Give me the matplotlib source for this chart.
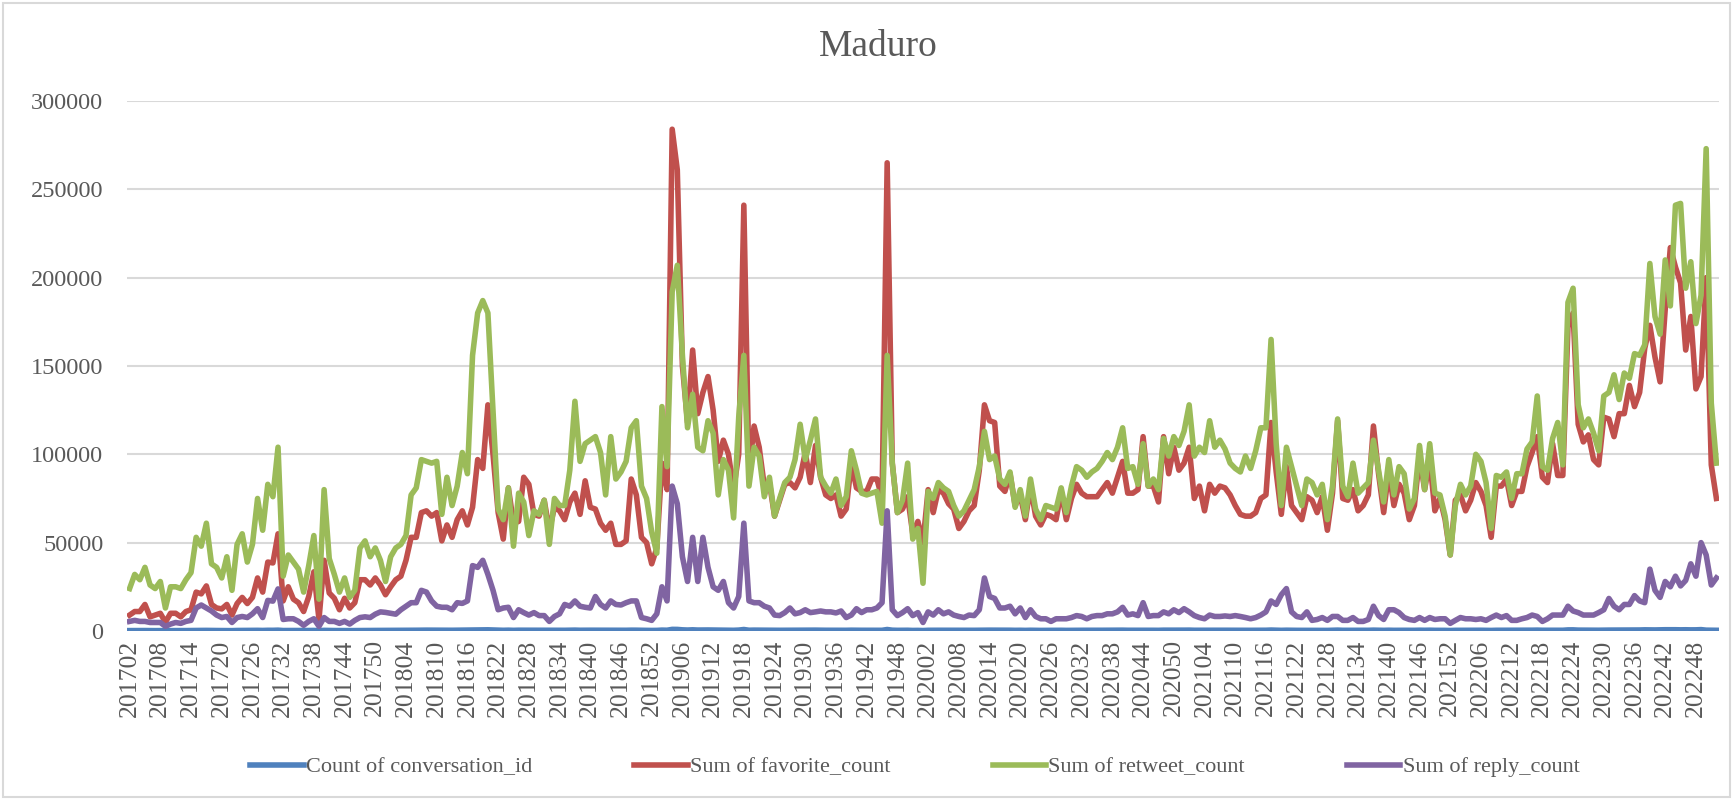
import matplotlib
matplotlib.use("Agg")
import matplotlib.pyplot as plt
from matplotlib.patches import Rectangle

# categories: year + week number, 2017 wk02 .. 2022 wk52
years = [2017, 2018, 2019, 2020, 2021, 2022]
first_week = 2
last_week = 52

# Count of conversation_id (sits on the zero line)
conv_2017 = [210, 230, 220, 240, 200, 190, 210, 150, 200, 210, 190, 220, 230, 300, 310, 330,
             270, 260, 240, 270, 190, 280, 300, 270, 290, 360, 300, 380, 370, 450, 250, 280,
             270, 250, 200, 260, 300, 170, 340, 260, 240, 210, 240, 200, 230, 280, 290, 280,
             300, 310, 290]
conv_2018 = [300, 320, 330, 350, 400, 410, 460, 470, 450, 460, 390, 420, 400, 430, 460, 440,
             520, 600, 620, 650, 540, 420, 380, 450, 360, 430, 420, 360, 400, 390, 410, 340,
             400, 390, 380, 420, 480, 400, 440, 430, 420, 390, 380, 380, 360, 370, 390, 450,
             440, 360, 340, 300]
conv_2019 = [330, 480, 420, 900, 870, 640, 530, 650, 520, 560, 560, 520, 450, 480, 460, 380,
             500, 820, 420, 480, 450, 400, 410, 350, 380, 400, 410, 420, 450, 420, 450, 470,
             420, 400, 390, 410, 360, 380, 440, 400, 390, 390, 410, 410, 380, 820, 440, 360,
             370, 400, 300, 330]
conv_2020 = [240, 380, 360, 400, 390, 380, 360, 330, 340, 360, 380, 420, 500, 460, 460, 410,
             400, 420, 360, 390, 330, 400, 340, 320, 340, 340, 330, 380, 330, 370, 400, 390,
             380, 390, 390, 400, 420, 410, 430, 460, 400, 410, 380, 450, 390, 390, 370, 450,
             420, 450, 430, 460]
conv_2021 = [480, 400, 410, 380, 420, 400, 410, 410, 390, 380, 370, 370, 370, 380, 410, 410,
             520, 430, 360, 430, 380, 360, 350, 380, 370, 350, 370, 320, 380, 480, 370, 360,
             400, 360, 370, 380, 470, 400, 350, 420, 360, 390, 380, 340, 360, 430, 380, 430,
             360, 370, 340, 260]
conv_2022 = [360, 380, 360, 370, 410, 400, 370, 310, 390, 390, 400, 360, 390, 390, 420, 440,
             480, 400, 400, 450, 460, 400, 600, 620, 480, 450, 460, 430, 420, 480, 490, 500,
             500, 520, 540, 540, 560, 640, 600, 580, 660, 700, 720, 700, 640, 680, 620, 640,
             760, 460, 400, 380]

# Sum of favorite_count (thousands)
fav_2017 = [9, 11, 11, 15, 8, 9, 10, 5, 10, 10, 8, 11, 12, 22, 21, 25.5, 15, 13, 12.5, 15,
            9, 15.5, 19, 15.5, 19, 30, 22, 39, 38.5, 55, 17, 25, 18, 16, 11, 19.5, 33.5, 6.5,
            40, 21.5, 18.5, 12, 18.5, 13, 16, 29, 29, 26, 30, 26, 20.5]
fav_2018 = [25, 29, 31, 40, 53, 53, 67, 68, 65, 67, 51, 60, 53, 63, 68, 60, 70, 97, 92, 128,
            100, 67, 52, 81, 61, 62, 87, 83, 66, 65, 74, 57, 70, 68, 63, 73, 78, 66, 85, 70,
            69, 61, 57, 61, 49, 49, 51, 86, 77, 53, 50, 38]
fav_2019 = [47, 95, 80, 284, 261, 150, 118, 159, 123, 135, 144, 125, 96, 108, 100, 80, 100,
            241, 90, 116, 104, 82, 84, 65, 74, 83, 84, 81, 87, 101, 84, 105, 87, 77, 75, 77,
            65, 69, 95, 81, 79, 79, 86, 86, 75, 265, 95, 67, 69, 76, 55, 62]
fav_2020 = [50, 80, 67, 80, 78, 72, 69, 58, 62, 68, 71, 91, 128, 119, 118, 82, 79, 89, 71, 77,
            63, 82, 65, 60, 66, 65, 63, 79, 63, 75, 83, 78, 76, 76, 76, 80, 84, 78, 87, 96,
            78, 78, 80, 110, 82, 82, 73, 110, 89, 104, 91, 95]
fav_2021 = [104, 75, 82, 68, 83, 78, 82, 81, 77, 71, 66, 65, 65, 67, 75, 77, 118, 90, 66, 93,
            71, 67, 63, 76, 74, 67, 76, 57, 78, 119, 75, 74, 80, 68, 71, 77, 116, 89, 67, 91,
            71, 83, 78, 63, 71, 99, 80, 97, 68, 75, 63, 43]
fav_2022 = [74, 77, 68, 74, 84, 79, 71, 53, 82, 82, 86, 71, 79, 79, 93, 101, 110, 87, 84, 106,
            88, 88, 172, 180, 117, 107, 111, 97, 94, 121, 120, 110, 123, 123, 139, 127, 135,
            160, 173, 155, 141, 182, 217, 206, 197, 159, 178, 137, 144, 200, 94, 75]

# Sum of retweet_count (thousands)
rt_2017 = [24, 32, 29, 36, 26, 24, 28, 13, 25, 25, 24, 29, 33, 53, 48, 61, 38, 36, 30, 42,
           23, 49, 55, 39, 49, 75, 57, 83, 76, 104, 31, 43, 39, 35, 22, 37, 54, 18, 80, 41,
           32, 22, 30, 19, 23, 47, 51, 42, 47, 40, 28]
rt_2018 = [42, 47, 49, 54, 77, 81, 97, 96, 95, 96, 66, 87, 71, 82, 101, 89, 156, 180, 187,
           180, 125, 69, 63, 81, 48, 78, 73, 54, 68, 66, 74, 49, 75, 71, 71, 91, 130, 96, 106,
           108, 110, 101, 77, 110, 86, 90, 96, 115, 119, 82, 75, 56]
rt_2019 = [44, 127, 93, 192, 207, 156, 115, 134, 104, 102, 119, 112, 77, 97, 91, 64, 121,
           156, 82, 104, 99, 76, 87, 65, 75, 84, 87, 97, 117, 97, 108, 120, 87, 82, 78, 86,
           71, 76, 102, 91, 78, 77, 78, 79, 61, 156, 95, 67, 74, 95, 52, 58]
rt_2020 = [27, 79, 75, 84, 81, 79, 71, 65, 68, 74, 80, 93, 113, 97, 99, 86, 83, 90, 70, 80,
           65, 86, 69, 63, 71, 70, 69, 81, 67, 82, 93, 91, 87, 90, 92, 96, 101, 97, 104, 115,
           92, 93, 83, 106, 82, 86, 80, 109, 99, 110, 105, 113]
rt_2021 = [128, 99, 104, 101, 119, 104, 108, 103, 95, 92, 90, 99, 92, 102, 115, 115, 165,
           106, 71, 104, 93, 82, 71, 86, 84, 77, 83, 63, 82, 120, 82, 76, 95, 78, 81, 84, 108,
           91, 73, 97, 77, 93, 89, 69, 75, 105, 80, 106, 78, 77, 65, 43]
rt_2022 = [71, 83, 77, 82, 100, 96, 84, 58, 88, 87, 90, 75, 89, 89, 103, 107, 133, 93, 91,
           109, 118, 94, 186, 194, 128, 115, 120, 112, 102, 133, 135, 145, 131, 146, 143, 157,
           156, 162, 208, 178, 168, 210, 184, 241, 242, 194, 209, 174, 190, 273, 129, 95]

# Sum of reply_count (thousands)
rep_2017 = [5.4, 6, 5.4, 5.4, 4.8, 4.8, 4.8, 2.6, 3.9, 4.8, 4.3, 5.4, 6, 13, 14.7, 13, 11.3,
            9, 7.6, 8.2, 4.8, 7.6, 8.2, 7.6, 9.7, 12.6, 7.6, 17.3, 16.9, 23.8, 6.5, 6.9, 6.9,
            5.4, 3.2, 5.4, 6.9, 2.6, 7.6, 5.4, 5.4, 4.3, 5.4, 3.9, 6, 7.6, 8, 7.6, 9.5, 10.8,
            10.5]
rep_2018 = [10, 9.5, 12, 14, 16, 16, 23, 22, 17, 14, 13.4, 13.4, 12, 16, 15.6, 17, 37, 36,
            40, 32, 23, 12, 13, 13.4, 7.6, 12, 10.4, 9, 10.4, 8.7, 8.7, 5.4, 8.2, 9.7, 15, 14,
            17, 14, 13.4, 13, 19.5, 15, 13, 17, 15, 14.7, 16, 17, 17, 7.6, 6.9, 6]
rep_2019 = [9.7, 25, 17, 82, 72, 42, 28, 53, 28, 53, 36, 25, 23, 28, 16, 13, 19.5, 61, 17,
            16, 16, 14, 13, 9, 8.7, 10.4, 13, 9.7, 10.4, 12, 10.4, 10.8, 11.3, 10.8, 10.8,
            10.2, 11.3, 7.6, 9, 12.6, 10.4, 12, 12, 13, 16, 68, 12, 8.7, 10.4, 12.6, 8.7, 10.4]
rep_2020 = [4.8, 10.8, 9, 12, 9.7, 10.8, 9, 8.2, 7.6, 9, 8.7, 12, 30, 19.5, 18.4, 13, 13,
            14, 9.7, 13, 7.6, 12, 8.2, 6.9, 6.9, 5.4, 6.9, 6.9, 6.9, 7.6, 8.7, 8.2, 6.9, 8.2,
            8.7, 8.7, 9.7, 9.7, 10.8, 13.4, 9, 9.7, 8.7, 16, 8.2, 8.7, 8.7, 10.8, 9.7, 12,
            10.4, 12.6]
rep_2021 = [10.8, 8.7, 7.6, 6.9, 9, 8.2, 8.2, 8.5, 8.2, 8.7, 8.2, 7.6, 6.9, 7.6, 9, 10.8,
            17, 15, 20.5, 24, 10.8, 8.2, 7.6, 10.8, 6, 6.5, 7.6, 6, 8.2, 8.2, 6, 6, 7.6, 5.4,
            5.4, 6.5, 14, 8.7, 6.5, 12, 12, 10.4, 7.6, 6.5, 6, 7.6, 6, 7.6, 6.5, 6.9, 6.9, 4.3]
rep_2022 = [6, 7.6, 6.9, 6.9, 6.5, 6.9, 6, 7.6, 9, 7.6, 8.7, 6, 6, 6.9, 7.6, 9, 8.2, 5.4,
            6.9, 9, 9, 9, 14, 11.3, 10.4, 9, 9, 9, 10.4, 12, 18.4, 14, 12, 15, 15, 20, 17, 16,
            35, 23, 19, 28, 25, 31, 25.5, 28.6, 38, 31, 50, 43, 26, 30]

categories = []
for y in years:
    start = first_week if y == years[0] else 1
    for w in range(start, last_week + 1):
        categories.append(f"{y}{w:02d}")

k = 1000
conv = conv_2017 + conv_2018 + conv_2019 + conv_2020 + conv_2021 + conv_2022
fav = [v * k for v in fav_2017 + fav_2018 + fav_2019 + fav_2020 + fav_2021 + fav_2022]
rt = [v * k for v in rt_2017 + rt_2018 + rt_2019 + rt_2020 + rt_2021 + rt_2022]
rep = [v * k for v in rep_2017 + rep_2018 + rep_2019 + rep_2020 + rep_2021 + rep_2022]

plt.rcParams['font.family'] = ['Liberation Serif', 'DejaVu Serif']
txt = '#595959'

fig = plt.figure(figsize=(17.33, 8), dpi=100)
ax = fig.add_axes([0.0733, 0.2113, 0.9186, 0.6625])

x = range(len(categories))
lw = 4.0
ax.plot(x, conv, color='#4F81BD', lw=lw, solid_joinstyle='round', label='Count of conversation_id')
ax.plot(x, fav, color='#C0504D', lw=lw, solid_joinstyle='round', label='Sum of favorite_count')
ax.plot(x, rt, color='#9BBB59', lw=lw, solid_joinstyle='round', label='Sum of retweet_count')
ax.plot(x, rep, color='#8064A2', lw=lw, solid_joinstyle='round', label='Sum of reply_count')

ax.set_xlim(-0.5, len(categories) - 0.5)
ax.set_ylim(0, 300000)
ax.set_yticks(range(0, 300001, 50000))
ax.set_xticks(list(x)[::6])
ax.set_xticklabels(categories[::6], rotation=90)
ax.tick_params(axis='y', length=0, pad=17, labelsize=17.5, labelcolor=txt)
ax.tick_params(axis='x', length=0, pad=6, labelsize=18.5, labelcolor=txt)
ax.grid(axis='y', color='#D9D9D9', linewidth=1.5)
ax.set_axisbelow(True)
for s in ax.spines.values():
    s.set_visible(False)

fig.text(0.507, 0.941, 'Maduro', ha='center', va='center', fontsize=27, color=txt)

leg = fig.legend(loc='center', bbox_to_anchor=(0.528, 0.041), ncol=4, frameon=False,
                 fontsize=16, handlelength=2.4, handletextpad=0.1, columnspacing=4.6)
for t in leg.get_texts():
    t.set_color(txt)

fig.patches.append(Rectangle((0.002, 0.004), 0.996, 0.992, transform=fig.transFigure,
                             fill=False, edgecolor='#D9D9D9', linewidth=1.5))

fig.savefig('out.png', dpi=100)
